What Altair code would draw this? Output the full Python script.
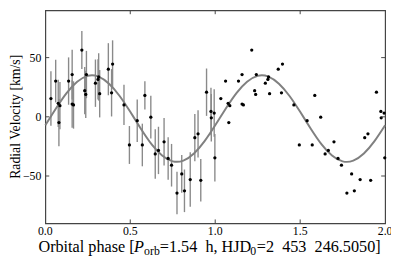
import altair as alt
import pandas as pd

# ---- data (phase 0-1, folded; repeated at phase+1) ----
phase = [0.033, 0.061, 0.076, 0.080, 0.086, 0.137, 0.158, 0.158, 0.166, 0.215,
         0.232, 0.238, 0.242, 0.295, 0.310, 0.314, 0.320, 0.371, 0.390, 0.396,
         0.463, 0.495, 0.541, 0.571, 0.586, 0.621, 0.647, 0.666, 0.699, 0.723,
         0.743, 0.775, 0.803, 0.819, 0.853, 0.880, 0.899, 0.915, 0.949, 0.975,
         0.977, 0.994, 0.998]
rv = [15.4, 30.2, 11.4, -4.9, 9.4, 30.2, 35.7, 10.8, 10.0, 56.4,
      22.1, 18.9, 35.7, 28.4, 31.6, 33.7, 19.5, 40.2, 20.3, 44.6,
      10.0, -23.8, -3.3, -23.8, 18.1, -0.3, -31.4, -28.4, -21.1, -35.2,
      -40.9, -64.4, -48.2, -62.5, -53.0, -17.6, -14.4, -53.6, 20.8, 4.5,
      -0.8, 3.2, -34.6]
err = [23, 18, 20, 20, 20, 20, 21, 20, 20, 16,
       20, 20, 20, 20, 17, 20, 20, 22, 20, 20,
       17, 16, 18, 18, 12, 18, 21, 20, 20, 18,
       18, 18, 16, 18, 23, 20, 20, 18, 20, 20,
       20, 20, 20]

# fitted curve
curve_phase = [0.0, 0.0625, 0.125, 0.1875, 0.25, 0.3125, 0.375, 0.4375, 0.5,
               0.5625, 0.625, 0.6875, 0.75, 0.8125, 0.875, 0.9375]
curve_rv = [-7.2, 7.0, 20.0, 29.6, 34.6, 34.0, 28.0, 17.6, 4.2,
            -10.0, -23.0, -32.6, -37.6, -37.0, -31.0, -20.6]

x_ticks = [0.0, 0.5, 1.0, 1.5, 2.0]
x_tick_labels = ["0.0", "0.5", "1.0", "1.5", "2.0"]
y_ticks = [-50, 0, 50]
y_tick_labels = ["\u221250", "0", "50"]

W, H = 346, 217
SERIF = "Liberation Serif"

obs = pd.DataFrame({"phase": phase, "rv": rv, "err": err})
obs["lo"] = obs["rv"] - obs["err"]
obs["hi"] = obs["rv"] + obs["err"]
both = pd.concat([obs.assign(cycle=0),
                  obs.assign(phase=obs["phase"] + 1, cycle=1)], ignore_index=True)

curve = pd.DataFrame({"phase": curve_phase + [p + 1 for p in curve_phase] + [2.0],
                      "rv": curve_rv + curve_rv + [curve_rv[0]]})

xs = alt.Scale(domain=[0, 2], nice=False, zero=False)
ys = alt.Scale(domain=[-90, 90], nice=False, zero=False)
X = alt.X("phase:Q", scale=xs, axis=None)
Y = alt.Y("rv:Q", scale=ys, axis=None)

bars = alt.Chart(obs).mark_rule(color="#8a8a8a", strokeWidth=1.4).encode(
    x=X, y=alt.Y("lo:Q", scale=ys, axis=None), y2="hi:Q")
line = alt.Chart(curve).mark_line(color="#808080", strokeWidth=2,
                                  interpolate="natural").encode(x=X, y=Y)
pts = alt.Chart(both).mark_circle(color="black", size=11, opacity=1).encode(x=X, y=Y)

# inward ticks on all four sides
tick_x = pd.DataFrame({"phase": [0.5, 1.0, 1.5]})
tick_y = pd.DataFrame({"rv": [-50, 0, 50]})
tk_b = alt.Chart(tick_x).mark_rule(color="#444").encode(x=X, y=alt.value(H), y2=alt.value(H - 4))
tk_t = alt.Chart(tick_x).mark_rule(color="#444").encode(x=X, y=alt.value(0), y2=alt.value(4))
tk_l = alt.Chart(tick_y).mark_rule(color="#444").encode(y=Y, x=alt.value(0), x2=alt.value(4))
tk_r = alt.Chart(tick_y).mark_rule(color="#444").encode(y=Y, x=alt.value(W - 4), x2=alt.value(W))

# tick labels placed through the scales
xlab = alt.Chart(pd.DataFrame({"phase": x_ticks, "lab": x_tick_labels})).mark_text(
    font=SERIF, fontSize=12, color="black", baseline="alphabetic", align="center"
).encode(x=X, y=alt.value(H + 12), text="lab:N")
ylab = alt.Chart(pd.DataFrame({"rv": y_ticks, "lab": y_tick_labels})).mark_text(
    font=SERIF, fontSize=12, color="black", baseline="middle", align="right"
).encode(y=Y, x=alt.value(-4), text="lab:N")

def txt(s, x, y, size=16.5, style="normal", angle=0, align="left", baseline="alphabetic"):
    return alt.Chart(pd.DataFrame({"t": [s]})).mark_text(
        font=SERIF, fontSize=size, fontStyle=style, align=align, baseline=baseline,
        angle=angle, color="black").encode(text="t:N", x=alt.value(x), y=alt.value(y))

ty = H + 29
x0 = -7
title_parts = [
    txt("Orbital phase [", x0, ty),
    txt("P", x0 + 97.2, ty, style="italic"),
    txt("orb", x0 + 107.6, ty + 3.5, size=12),
    txt("=1.54\u2002h, HJD", x0 + 123.6, ty),
    txt("0", x0 + 215.6, ty + 3.5, size=12),
    txt("=2\u2002453\u2002246.5050]", x0 + 222.4, ty),
]
ytitle = txt("Radial Velocity [km/s]", -30, H / 2, size=14, angle=270,
             align="center", baseline="middle")

chart = alt.layer(bars, line, pts, tk_b, tk_t, tk_l, tk_r, xlab, ylab, ytitle,
                  *title_parts).properties(
    width=W, height=H,
    autosize=alt.AutoSizeParams(type="none"),
    padding={"left": 38, "top": 0, "right": 6, "bottom": 35},
).configure_view(stroke="#444", strokeWidth=1.2)

chart.save("out.html", embed_options={"renderer": "svg", "actions": False})
